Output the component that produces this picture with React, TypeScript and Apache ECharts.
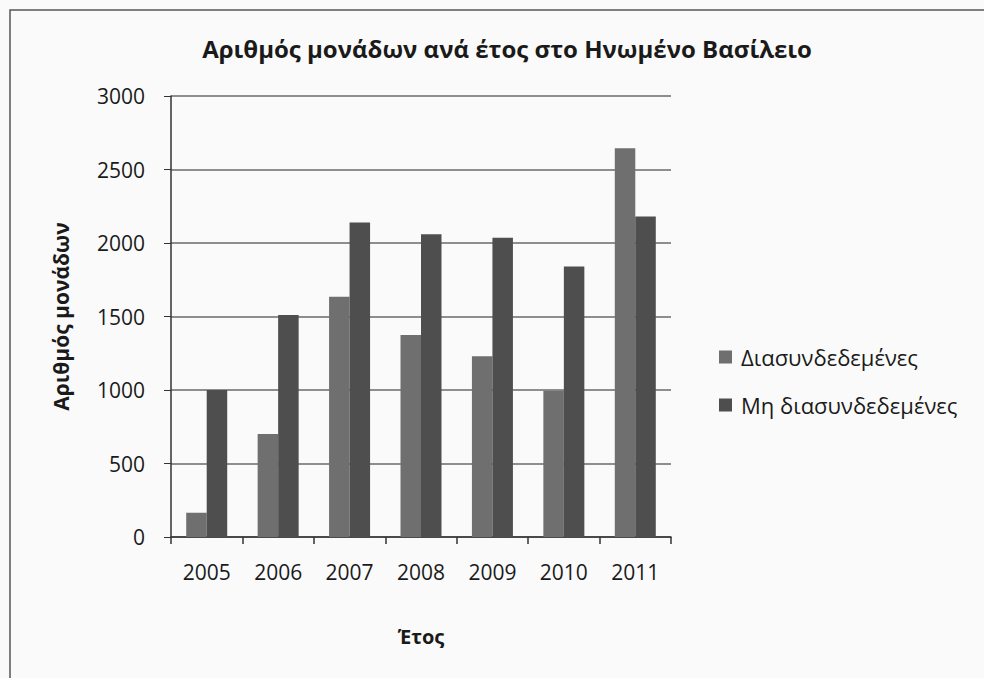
import React, { useEffect, useRef } from "react";
import * as echarts from "echarts";

const years = ["2005", "2006", "2007", "2008", "2009", "2010", "2011"];
const connected = [165, 700, 1635, 1375, 1230, 995, 2645];
const notConnected = [1000, 1510, 2140, 2060, 2035, 1840, 2180];
const seriesNames = ["Διασυνδεδεμένες", "Μη διασυνδεδεμένες"];
const titleText = "Αριθμός μονάδων ανά έτος στο Ηνωμένο Βασίλειο";
const yName = "Αριθμός μονάδων";
const xName = "Έτος";

const FONT = "'Open Sans', 'Noto Sans', sans-serif";

export default function App() {
  const ref = useRef<HTMLDivElement>(null);
  useEffect(() => {
    if (!ref.current) return;
    const chart = echarts.init(ref.current, undefined, { renderer: "svg" });
    chart.setOption({
      animation: false,
      backgroundColor: "#fafafa",
      textStyle: { fontFamily: FONT },
      title: {
        text: titleText,
        left: 502,
        textAlign: "center",
        top: 31,
        textStyle: { fontFamily: FONT, fontSize: 24, fontWeight: "bold", color: "#1a1a1a" },
      },
      legend: {
        orient: "vertical",
        left: 714,
        top: 341,
        itemWidth: 13,
        itemHeight: 13,
        itemGap: 26,
        icon: "rect",
        textStyle: { fontFamily: FONT, fontSize: 22, color: "#1a1a1a", padding: [0, 0, 0, 4] },
        data: seriesNames,
      },
      grid: { left: 171, right: 313, top: 96, bottom: 141 },
      xAxis: {
        type: "category",
        data: years,
        name: xName,
        nameLocation: "middle",
        nameGap: 89,
        nameTextStyle: { fontFamily: FONT, fontSize: 20, fontWeight: "bold", color: "#1a1a1a" },
        axisLine: { lineStyle: { color: "#333", width: 1.5 } },
        axisTick: { show: true, alignWithLabel: false, length: 7, lineStyle: { color: "#333", width: 1.5 } },
        axisLabel: { fontFamily: FONT, fontSize: 21, color: "#1a1a1a", margin: 24 },
      },
      yAxis: {
        type: "value",
        min: 0,
        max: 3000,
        interval: 500,
        name: yName,
        nameLocation: "middle",
        nameGap: 100,
        nameTextStyle: { fontFamily: FONT, fontSize: 21, fontWeight: "bold", color: "#1a1a1a" },
        axisLine: { show: true, lineStyle: { color: "#333", width: 1.5 } },
        axisTick: { show: true, length: 7, lineStyle: { color: "#333" } },
        axisLabel: {
          fontFamily: FONT,
          fontSize: 21,
          color: "#1a1a1a",
          margin: 26,
          formatter: (v: number) => String(v),
        },
        splitLine: { lineStyle: { color: "#6a6a6a", width: 1.5 } },
      },
      series: [
        {
          name: seriesNames[0],
          type: "bar",
          data: connected,
          barWidth: 20.5,
          barGap: "0%",
          itemStyle: { color: "#6f6f6f" },
        },
        {
          name: seriesNames[1],
          type: "bar",
          data: notConnected,
          barWidth: 20.5,
          barGap: "0%",
          itemStyle: { color: "#4e4e4e" },
        },
      ],
      graphic: [
        {
          type: "rect",
          shape: { x: 10, y: 10, width: 990, height: 700 },
          style: { fill: "none", stroke: "#555", lineWidth: 1.5 },
          silent: true,
        },
      ],
    });
    return () => chart.dispose();
  }, []);
  return (
    <div
      ref={ref}
      style={{ position: "fixed", left: 0, top: 0, width: 984, height: 678 }}
    />
  );
}
